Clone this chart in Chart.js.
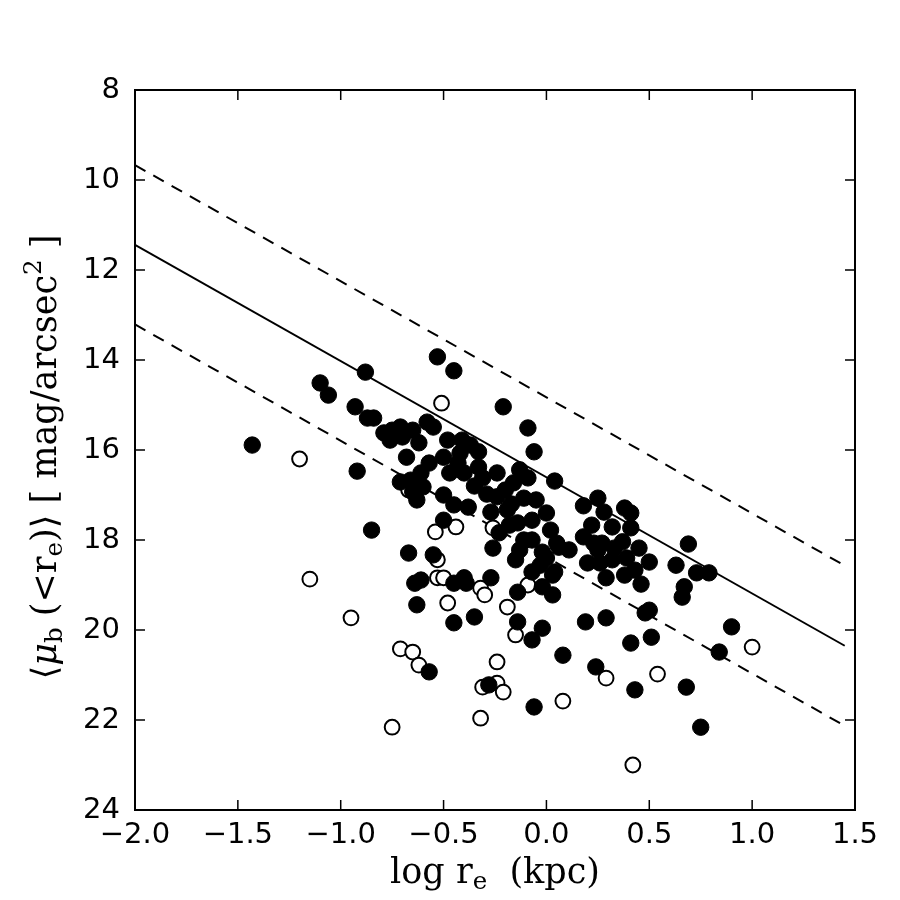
<!DOCTYPE html>
<html>
<head>
<meta charset="utf-8">
<script src="https://cdn.jsdelivr.net/npm/chart.js@4.4.0/dist/chart.umd.min.js"></script>
<style>
  html, body { margin: 0; padding: 0; background: #fff; }
</style>
</head>
<body>
<canvas id="chart" width="900" height="900"></canvas>
<script>
// filled galaxies (log r_e, <mu_b>)
const filledX = [-1.43, -1.10, -1.06, -0.88, -0.93, -0.87, -0.84, -0.92, -0.85, -0.79, -0.75, -0.70, -0.68, -0.71, -0.67,
  -0.71, -0.65, -0.58, -0.55, -0.53, -0.45, -0.48, -0.41, -0.37, -0.33, -0.42, -0.50, -0.62, -0.66, -0.61,
  -0.63, -0.50, -0.47, -0.40, -0.38, -0.33, -0.24, -0.24, -0.16, -0.09, -0.19, -0.14, -0.05, 0.00, -0.07,
  0.02, -0.23, -0.26, -0.15, -0.13, -0.07, -0.02, 0.05, -0.50, -0.55, -0.61, -0.40, -0.27, -0.07, 0.00,
  0.03, -0.45, -0.63, -0.45, -0.35, -0.14, -0.14, -0.02, -0.07, -0.57, -0.28, -0.06, 0.08, -0.02, 0.03,
  -0.21, -0.09, -0.06, 0.04, 0.18, 0.25, 0.28, 0.38, 0.41, 0.22, 0.41, 0.32, 0.37, 0.23, 0.27,
  0.18, 0.06, 0.11, 0.20, 0.26, 0.32, 0.39, 0.45, 0.50, 0.43, 0.38, 0.29, 0.46, 0.04, 0.69,
  0.63, 0.73, 0.79, 0.67, 0.66, 0.50, 0.48, 0.29, 0.19, 0.41, 0.51, 0.24, 0.43, 0.68, 0.75,
  0.90, 0.84, -0.35, -0.29, -0.20, -0.13, -0.11, -0.18, -0.11, -0.43, -0.57, -0.60, -0.65, -0.45, -0.76,
  -0.03, 0.25, 0.33, -0.39, -0.64, -0.31, -0.27, -0.17];
const filledY = [15.89, 14.51, 14.78, 14.27, 15.04, 15.29, 15.29, 16.47, 17.78, 15.62, 15.56, 15.71, 16.16, 16.71, 18.29,
  15.49, 15.56, 15.38, 15.49, 13.93, 14.24, 15.78, 15.78, 15.89, 16.04, 16.07, 16.16, 15.84, 16.67, 16.51,
  17.11, 17.00, 16.51, 16.51, 17.27, 16.38, 16.51, 17.04, 16.73, 16.62, 17.33, 17.62, 17.11, 17.40, 17.56,
  17.78, 17.84, 18.18, 18.44, 18.22, 18.00, 18.27, 18.07, 17.56, 18.33, 18.89, 18.84, 18.84, 18.71, 18.40,
  18.78, 18.96, 19.44, 19.84, 19.71, 19.16, 19.82, 19.96, 20.22, 20.93, 21.22, 21.71, 20.56, 19.04, 19.22,
  15.04, 15.51, 16.04, 16.69, 17.24, 17.07, 17.38, 17.29, 17.40, 17.67, 17.73, 17.71, 18.04, 18.07, 18.07,
  17.93, 18.16, 18.22, 18.51, 18.51, 18.44, 18.40, 18.18, 18.49, 18.67, 18.78, 18.84, 18.98, 18.71, 18.09,
  18.56, 18.73, 18.73, 19.04, 19.27, 19.56, 19.62, 19.73, 19.82, 20.29, 20.16, 20.82, 21.33, 21.27, 22.16,
  19.93, 20.49, 16.80, 16.98, 16.89, 16.44, 17.07, 17.67, 18.00, 16.29, 16.29, 16.82, 16.93, 17.22, 15.78,
  18.56, 18.22, 18.18, 18.96, 18.96, 16.62, 17.38, 17.20];

// open galaxies
const openX = [-1.20, -1.15, -0.95, -0.75, -0.71, -0.65, -0.62, -0.51, -0.54, -0.44, -0.26, -0.53, -0.53, -0.50, -0.48,
  -0.32, -0.30, -0.19, -0.15, -0.24, -0.31, -0.24, -0.21, -0.32, -0.09, 0.08, 0.29, 0.54, 0.42, 1.00, -0.67];
const openY = [16.20, 18.87, 19.73, 22.16, 20.42, 20.49, 20.78, 14.96, 17.82, 17.71, 17.73, 18.44, 18.84, 18.84, 19.40,
  19.07, 19.22, 19.49, 20.11, 20.71, 21.27, 21.18, 21.38, 21.96, 19.00, 21.58, 21.07, 20.98, 23.00, 20.38, 16.89];

// relation and its scatter band (end points)
const lineX = [-2.0, 1.45];
const fitY = [11.44, 20.35];
const upperY = [9.67, 18.57];
const lowerY = [13.21, 22.13];

const xTicks = [-2.0, -1.5, -1.0, -0.5, 0.0, 0.5, 1.0, 1.5];
const yTicks = [8, 10, 12, 14, 16, 18, 20, 22, 24];

const pts = (xs, ys) => xs.map((v, i) => ({ x: v, y: ys[i] }));

const serif = '"DejaVu Serif", "Liberation Serif", serif';

function drawRich(ctx, parts, size) {
    // parts: [text, kind]; kind '' | 'i' | 'sub' | 'sup'
    const fontFor = k => {
        const s = (k === 'sub' || k === 'sup') ? size * 0.7 : size;
        return (k === 'i' ? 'italic ' : '') + s + 'px ' + serif;
    };
    let w = 0;
    parts.forEach(p => { ctx.font = fontFor(p[1]); w += ctx.measureText(p[0]).width; });
    let cx = -w / 2;
    ctx.textBaseline = 'middle';
    ctx.textAlign = 'left';
    parts.forEach(p => {
        ctx.font = fontFor(p[1]);
        let dy = 0;
        if (p[1] === 'sub') dy = size * 0.25;
        if (p[1] === 'sup') dy = -size * 0.35;
        ctx.fillText(p[0], cx, dy);
        cx += ctx.measureText(p[0]).width;
    });
}

const frameTicks = {
    id: 'frameTicks',
    afterDraw(chart) {
        const { ctx, chartArea: a, scales: { x, y } } = chart;
        const len = 10;
        ctx.save();
        ctx.strokeStyle = '#000';
        ctx.lineWidth = 1.5;
        ctx.beginPath();
        x.ticks.forEach(t => {
            const px = x.getPixelForValue(t.value);
            ctx.moveTo(px, a.bottom); ctx.lineTo(px, a.bottom - len);
            ctx.moveTo(px, a.top); ctx.lineTo(px, a.top + len);
        });
        y.ticks.forEach(t => {
            const py = y.getPixelForValue(t.value);
            ctx.moveTo(a.left, py); ctx.lineTo(a.left + len, py);
            ctx.moveTo(a.right, py); ctx.lineTo(a.right - len, py);
        });
        ctx.stroke();
        ctx.lineWidth = 2;
        ctx.strokeRect(a.left, a.top, a.right - a.left, a.bottom - a.top);

        ctx.fillStyle = '#000';
        // x title
        ctx.save();
        ctx.translate((a.left + a.right) / 2, a.bottom + 64);
        drawRich(ctx, [['log r', ''], ['e', 'sub'], ['  (kpc)', '']], 35);
        ctx.restore();
        // y title
        ctx.save();
        ctx.translate(a.left - 88, (a.top + a.bottom) / 2 + 7);
        ctx.rotate(-Math.PI / 2);
        drawRich(ctx, [['\u27E8', ''], ['\u03BC', 'i'], ['b', 'sub'], [' (<r', ''], ['e', 'sub'], [')\u27E9 [ mag/arcsec', ''], ['2', 'sup'], [' ]', '']], 35);
        ctx.restore();
        ctx.restore();
    }
};

new Chart(document.getElementById('chart'), {
    type: 'scatter',
    data: {
        datasets: [
            {
                label: 'filled',
                data: pts(filledX, filledY),
                pointRadius: 8.2,
                pointBackgroundColor: '#000',
                pointBorderColor: '#000',
                pointBorderWidth: 1
            },
            {
                label: 'open',
                data: pts(openX, openY),
                pointRadius: 7.4,
                pointBackgroundColor: '#fff',
                pointBorderColor: '#000',
                pointBorderWidth: 2
            },
            {
                type: 'line',
                label: 'fit',
                data: pts(lineX, fitY),
                borderColor: '#000',
                borderWidth: 2,
                pointRadius: 0,
                fill: false
            },
            {
                type: 'line',
                label: 'upper',
                data: pts(lineX, upperY),
                borderColor: '#000',
                borderWidth: 2,
                borderDash: [12, 9],
                pointRadius: 0,
                fill: false
            },
            {
                type: 'line',
                label: 'lower',
                data: pts(lineX, lowerY),
                borderColor: '#000',
                borderWidth: 2,
                borderDash: [12, 9],
                pointRadius: 0,
                fill: false
            }
        ]
    },
    options: {
        responsive: false,
        animation: false,
        events: [],
        layout: { padding: { left: 0, top: 90, right: 45, bottom: 0 } },
        plugins: { legend: { display: false }, tooltip: { enabled: false } },
        scales: {
            x: {
                type: 'linear',
                min: -2.0,
                max: 1.5,
                afterFit: s => { s.height = 90; },
                afterBuildTicks: s => { s.ticks = xTicks.map(v => ({ value: v })); },
                grid: { display: false },
                border: { display: false },
                ticks: {
                    color: '#000',
                    padding: 0,
                    maxRotation: 0,
                    font: { family: '"DejaVu Sans"', size: 29 },
                    callback: v => v.toFixed(1).replace('-', '\u2212')
                }
            },
            y: {
                type: 'linear',
                reverse: true,
                min: 8,
                max: 24,
                afterFit: s => { s.width = 135; },
                afterBuildTicks: s => { s.ticks = yTicks.map(v => ({ value: v })); },
                grid: { display: false },
                border: { display: false },
                ticks: {
                    color: '#000',
                    padding: 7,
                    font: { family: '"DejaVu Sans"', size: 29 }
                }
            }
        }
    },
    plugins: [frameTicks]
});
</script>
</body>
</html>
